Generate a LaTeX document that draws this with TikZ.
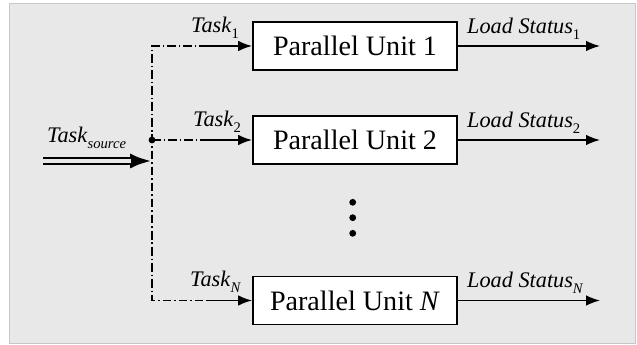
\documentclass[tikz,border=0pt]{standalone}
\usepackage{fontspec}
\setmainfont{Liberation Serif}
\usepackage{tikz}
\usetikzlibrary{arrows.meta,shapes}

\newcommand{\lbl}[2]{\textit{#1}\raisebox{-0.55ex}{\fontsize{12.5}{13}\selectfont #2}}

\begin{document}
\begin{tikzpicture}[x=0.03cm,y=-0.03cm]
        \tikzstyle{unit}=[rectangle,draw=black,line width=1.6pt,fill=white,minimum width=6.12cm,minimum height=1.44cm,inner sep=0pt,font=\fontsize{24}{26}\selectfont]
        \tikzstyle{arr}=[line width=1.4pt,-{Latex[length=4.2mm,width=3.2mm]}]
        \tikzstyle{dashdot}=[line width=1.3pt,dash pattern=on 7.5pt off 2.5pt on 1.2pt off 2.5pt]
        \tikzstyle{lab}=[anchor=base west,inner sep=0pt,font=\fontsize{19}{21}\selectfont]

        \useasboundingbox (0,0) rectangle (637,345);
        \fill[black!9,draw=black!22] (9,3) rectangle (635,343);

        \begin{scope}
          \node[unit](u1) at (355,46){Parallel Unit 1};
          \node[unit](u2) at (355,140){Parallel Unit 2};
          \node[unit](uN) at (355,300.5){Parallel Unit \textit{N}};

          \coordinate(c1) at (152,46);
          \coordinate(split) at (152,140);
          \coordinate(cN) at (152,300.5);
          \coordinate(t1) at (208,46);
          \coordinate(t2) at (208,140);
          \coordinate(tN) at (208,300.5);
          \coordinate(src) at (43,161);
          \coordinate(srcend) at (152,161);
          \coordinate(o1) at (600,46);
          \coordinate(o2) at (600,140);
          \coordinate(oN) at (600,300.5);

          \draw[dashdot] (t1) -- (c1) -- (cN) -- (tN);
          \draw[dashdot] (split) -- (t2);
          \fill (split) circle (3.4);

          \draw[arr] (t1) -- (u1.west);
          \draw[arr] (t2) -- (u2.west);
          \draw[arr] (tN) -- (uN.west);

          \draw[arr] (u1.east) -- (o1);
          \draw[arr] (u2.east) -- (o2);
          \draw[arr] (uN.east) -- (oN);

          \draw[line width=7.4pt,-{Latex[length=6.6mm,width=4.6mm]}] (src) -- (srcend);
          \draw[black!9,line width=2.8pt,shorten >=6.4mm] (src) -- (srcend);

          \node[lab](l1) at (191,33){\lbl{Task}{1}};
          \node[lab](l2) at (193,127){\lbl{Task}{2}};
          \node[lab](lN) at (190,287){\lbl{Task}{\textit{N}}};
          \node[lab](ls) at (47,143){\lbl{Task}{\textit{source}}};
          \node[lab](s1) at (467,34){\lbl{Load Status}{1}};
          \node[lab](s2) at (467,128){\lbl{Load Status}{2}};
          \node[lab](sN) at (467,288){\lbl{Load Status}{\textit{N}}};

          \fill (352.7,202.3) circle (3.4);
          \fill (352.7,217.7) circle (3.4);
          \fill (352.7,233.3) circle (3.4);
        \end{scope}
      \end{tikzpicture}
\end{document}
